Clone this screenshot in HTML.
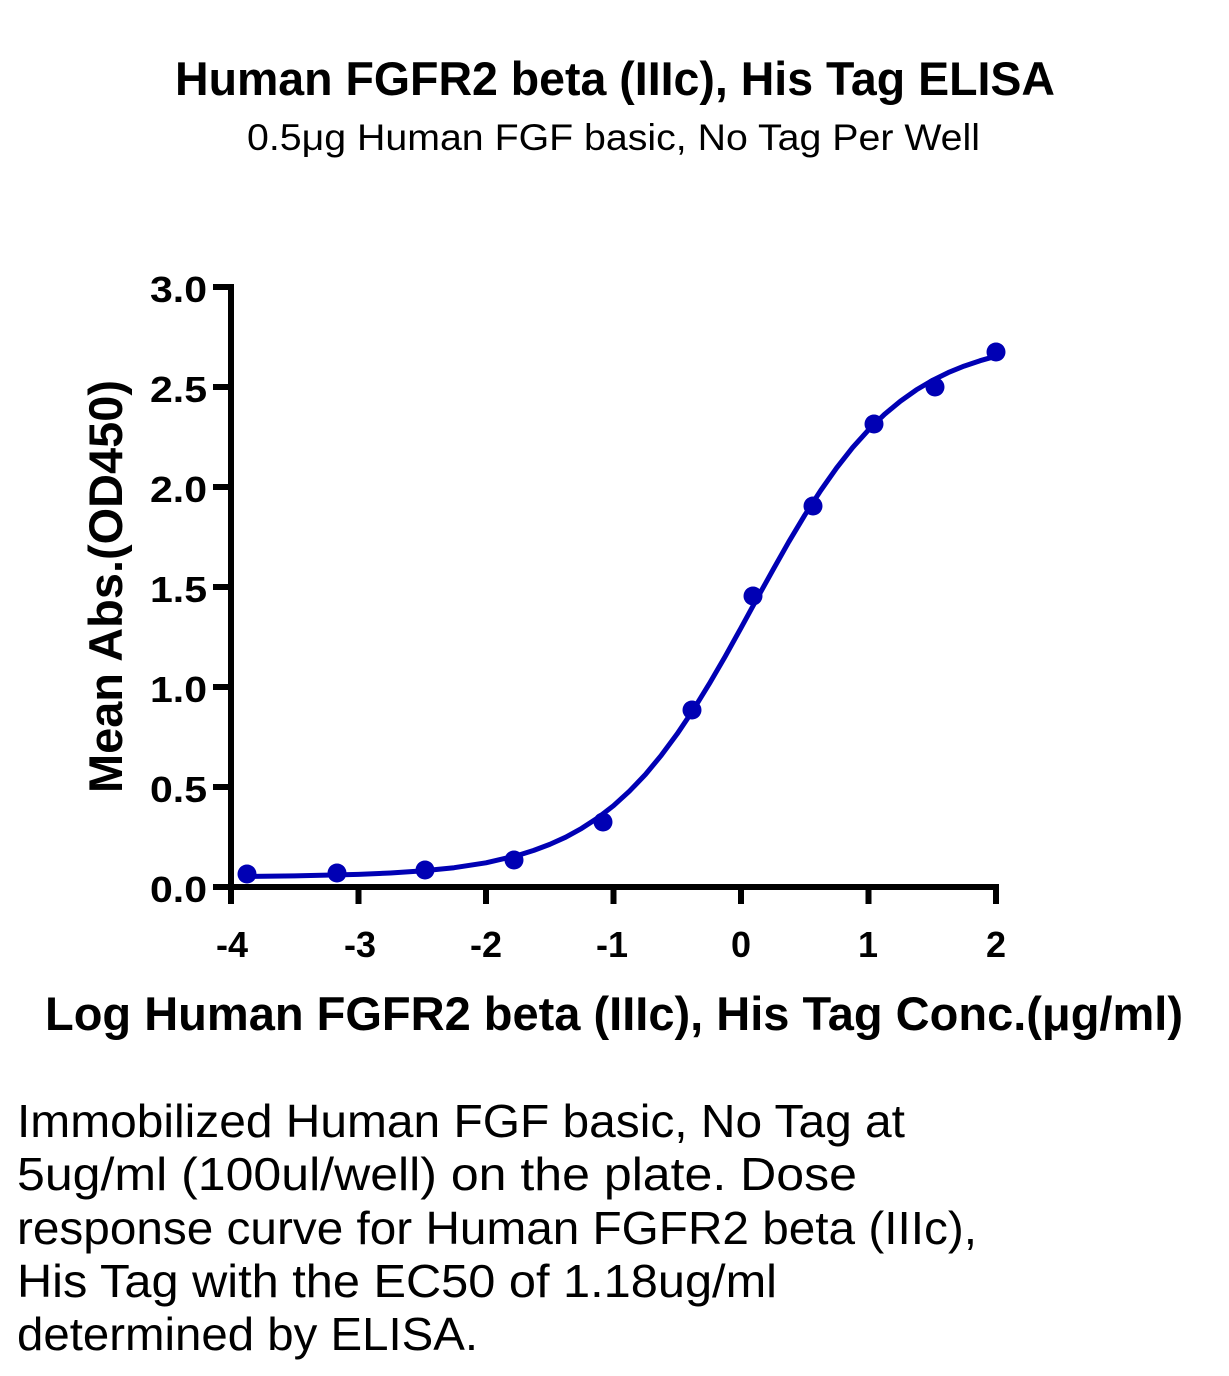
<!DOCTYPE html>
<html>
<head>
<meta charset="utf-8">
<style>
  html, body { margin: 0; padding: 0; background: #ffffff; }
  body { width: 1229px; height: 1376px; overflow: hidden; }
  svg { display: block; }
  .b { font-family: "Liberation Sans", "DejaVu Sans", sans-serif; font-weight: bold; fill: #000; }
  .r { font-family: "Liberation Sans", "DejaVu Sans", sans-serif; font-weight: normal; fill: #000; }
</style>
</head>
<body>
<svg width="1229" height="1376" viewBox="0 0 1229 1376" xmlns="http://www.w3.org/2000/svg">
  <rect x="0" y="0" width="1229" height="1376" fill="#ffffff"/>

  <!-- Titles -->
  <text class="b" x="175" y="95" font-size="47" textLength="880" lengthAdjust="spacingAndGlyphs">Human FGFR2 beta (IIIc), His Tag ELISA</text>
  <text class="r" x="247" y="150" font-size="37" textLength="733" lengthAdjust="spacingAndGlyphs">0.5μg Human FGF basic, No Tag Per Well</text>

  <!-- Axes -->
  <g stroke="#000" stroke-width="6" fill="none" stroke-linecap="butt">
    <line x1="231" y1="284" x2="231" y2="890"/>
    <line x1="228" y1="887" x2="999" y2="887"/>
    <!-- y ticks -->
    <line x1="213" y1="287" x2="231" y2="287"/>
    <line x1="213" y1="387" x2="231" y2="387"/>
    <line x1="213" y1="487" x2="231" y2="487"/>
    <line x1="213" y1="587" x2="231" y2="587"/>
    <line x1="213" y1="687" x2="231" y2="687"/>
    <line x1="213" y1="787" x2="231" y2="787"/>
    <line x1="213" y1="887" x2="231" y2="887"/>
    <!-- x ticks -->
    <line x1="231" y1="887" x2="231" y2="904"/>
    <line x1="358.5" y1="887" x2="358.5" y2="904"/>
    <line x1="486" y1="887" x2="486" y2="904"/>
    <line x1="613.5" y1="887" x2="613.5" y2="904"/>
    <line x1="741" y1="887" x2="741" y2="904"/>
    <line x1="868.5" y1="887" x2="868.5" y2="904"/>
    <line x1="996" y1="887" x2="996" y2="904"/>
  </g>

  <!-- Y tick labels -->
  <g class="b" font-size="36" text-anchor="end">
    <text x="207" y="302" textLength="57" lengthAdjust="spacingAndGlyphs">3.0</text>
    <text x="207" y="402" textLength="57" lengthAdjust="spacingAndGlyphs">2.5</text>
    <text x="207" y="502" textLength="57" lengthAdjust="spacingAndGlyphs">2.0</text>
    <text x="207" y="602" textLength="57" lengthAdjust="spacingAndGlyphs">1.5</text>
    <text x="207" y="702" textLength="57" lengthAdjust="spacingAndGlyphs">1.0</text>
    <text x="207" y="802" textLength="57" lengthAdjust="spacingAndGlyphs">0.5</text>
    <text x="207" y="902" textLength="57" lengthAdjust="spacingAndGlyphs">0.0</text>
  </g>

  <!-- X tick labels -->
  <g class="b" font-size="36" text-anchor="middle">
    <text x="232" y="957">-4</text>
    <text x="360" y="957">-3</text>
    <text x="486" y="957">-2</text>
    <text x="612" y="957">-1</text>
    <text x="741" y="957">0</text>
    <text x="868" y="957">1</text>
    <text x="996" y="957">2</text>
  </g>

  <!-- Axis titles -->
  <text class="b" x="45" y="1030" font-size="47" textLength="1138" lengthAdjust="spacingAndGlyphs">Log Human FGFR2 beta (IIIc), His Tag Conc.(μg/ml)</text>
  <text class="b" transform="translate(122,793) rotate(-90)" x="0" y="0" font-size="47" textLength="413" lengthAdjust="spacingAndGlyphs">Mean Abs.(OD450)</text>

  <!-- Fitted curve -->
  <polyline fill="none" stroke="#0000b4" stroke-width="5" stroke-linejoin="round" stroke-linecap="round"
    points="246.3,876.4 294.75,875.9 358.5,874.4 390.4,873.0 422.25,870.9 454.1,867.7 486,862.8 517.9,855.4 533.8,850.4 549.75,844.4 565.7,837.2 581.6,828.4 597.6,818.0 613.5,805.7 629.4,791.2 645.4,774.5 661.3,755.3 677.25,733.8 693.2,710.0 709.1,684.1 725.1,656.6 741,627.9 756.9,598.8 772.9,570.0 788.8,541.8 804.75,515.2 820.7,490.5 836.6,467.9 852.6,447.6 868.5,429.9 884.4,414.4 900.4,401.2 916.3,389.9 932.25,380.5 948.2,372.6 964.1,366.1 980.1,360.7 996,356.2"/>

  <!-- Data points -->
  <g fill="#0000b4">
    <circle cx="247" cy="874" r="9.5"/>
    <circle cx="337" cy="873" r="9.5"/>
    <circle cx="425" cy="870" r="9.5"/>
    <circle cx="514" cy="860" r="9.5"/>
    <circle cx="603" cy="822" r="9.5"/>
    <circle cx="692" cy="710" r="9.5"/>
    <circle cx="753" cy="596" r="9.5"/>
    <circle cx="813" cy="506" r="9.5"/>
    <circle cx="874" cy="424" r="9.5"/>
    <circle cx="935" cy="387" r="9.5"/>
    <circle cx="996" cy="352" r="9.5"/>
  </g>

  <!-- Description paragraph -->
  <g class="r" font-size="46">
    <text x="17" y="1137" textLength="888" lengthAdjust="spacingAndGlyphs">Immobilized Human FGF basic, No Tag at</text>
    <text x="17" y="1190" textLength="840" lengthAdjust="spacingAndGlyphs">5ug/ml (100ul/well) on the plate. Dose</text>
    <text x="17" y="1244" textLength="960" lengthAdjust="spacingAndGlyphs">response curve for Human FGFR2 beta (IIIc),</text>
    <text x="17" y="1297" textLength="760" lengthAdjust="spacingAndGlyphs">His Tag with the EC50 of 1.18ug/ml</text>
    <text x="17" y="1350" textLength="461" lengthAdjust="spacingAndGlyphs">determined by ELISA.</text>
  </g>
</svg>
</body>
</html>
